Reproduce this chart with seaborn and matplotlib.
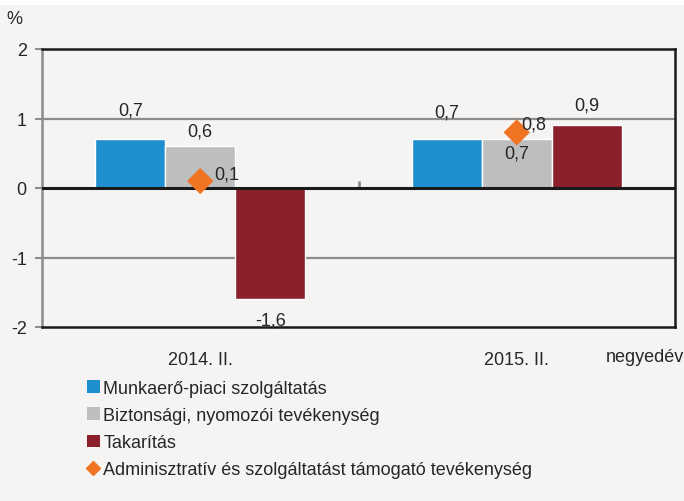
import pandas as pd
import matplotlib.pyplot as plt
import seaborn as sns
from matplotlib.patches import Rectangle

# ------------------------------
# Data
# ------------------------------
periods = ['2014. II.', '2015. II.']
munkaero = [0.7, 0.7]
biztonsagi = [0.6, 0.7]
takaritas = [-1.6, 0.9]
adminisztrativ = [0.1, 0.8]

series_names = ['Munkaerő-piaci szolgáltatás',
                'Biztonsági, nyomozói tevékenység',
                'Takarítás']
admin_name = 'Adminisztratív és szolgáltatást támogató tevékenység'
colors = ['#1f8fcf', '#bcbec0', '#8b1f2b']
admin_color = '#f07424'

df = pd.DataFrame({
    'period': periods * 3,
    'series': [s for s in series_names for _ in periods],
    'value': munkaero + biztonsagi + takaritas,
})

# ------------------------------
# Style
# ------------------------------
sns.set_style('white')
plt.rcParams['font.family'] = ['Liberation Sans Narrow', 'Liberation Sans', 'DejaVu Sans']
bg = '#f5f4f2'

fig = plt.figure(figsize=(6.84, 5.02), dpi=100, facecolor=bg)
fig.patches.append(Rectangle((0, 1 - 6 / 502), 1, 6 / 502, transform=fig.transFigure,
                             facecolor='white', edgecolor='none', zorder=0))
ax = fig.add_axes([42 / 684, 1 - 328 / 502, 633 / 684, 278 / 502])
ax.set_facecolor(bg)

sns.barplot(data=df, x='period', y='value', hue='series', palette=colors,
            width=0.663, gap=0, saturation=1, ax=ax, legend=False, zorder=2)
sns.scatterplot(x=periods, y=adminisztrativ, marker='D', s=180, color=admin_color,
                edgecolor='none', ax=ax, zorder=4)

ax.set_xlim(-0.5, 1.5)
ax.set_ylim(-2, 2)
ax.set_yticks([-2, -1, 0, 1, 2])
ax.set_yticklabels(['-2', '-1', '0', '1', '2'], fontsize=13)
ax.tick_params(axis='y', left=True, length=5, color='#8c8c8c', width=1.5, pad=6)
ax.tick_params(axis='x', bottom=False, labelsize=13, pad=14)
ax.set_xlabel('')
ax.set_ylabel('')

for v in [1, -1]:
    ax.axhline(v, color='#8c8c8c', lw=1.6, zorder=1)
ax.axhline(0, color='#1a1a1a', lw=2.2, zorder=3)

for side in ['top', 'right', 'bottom']:
    ax.spines[side].set_color('#1a1a1a')
    ax.spines[side].set_linewidth(1.8)
ax.spines['left'].set_color('#8c8c8c')
ax.spines['left'].set_linewidth(1.8)

# small category separator tick on zero line
sec = ax.secondary_xaxis(0.5)
sec.set_xticks([0.5])
sec.set_xticklabels([''])
sec.tick_params(length=5, width=2, color='#8c8c8c', direction='out')
sec.spines['bottom'].set_visible(False)

# ------------------------------
# Value labels
# ------------------------------
def fmt(v):
    return f'{v:.1f}'.replace('.', ',')

offsets = {
    (0, 0): (0, 21), (0, 1): (0, 11), (0, 2): (0, -15),
    (1, 0): (0, 20), (1, 1): (0, -10), (1, 2): (0, 15),
}
for s_idx, container in enumerate(ax.containers):
    for p_idx, bar in enumerate(container):
        h = bar.get_height()
        x = bar.get_x() + bar.get_width() / 2
        dx, dy = offsets[(p_idx, s_idx)]
        ax.annotate(fmt(h), (x, h), xytext=(dx, dy), textcoords='offset points',
                    ha='center', va='center', fontsize=13, zorder=5)

admin_offsets = [(19, 5), (12, 6)]
for i, v in enumerate(adminisztrativ):
    dx, dy = admin_offsets[i]
    ax.annotate(fmt(v), (i, v), xytext=(dx, dy), textcoords='offset points',
                ha='center', va='center', fontsize=13, zorder=5)

fig.text(14 / 684, 1 - 20 / 502, '%', fontsize=13, ha='center', va='center')
fig.text(645 / 684, 1 - 358 / 502, 'negyedév', fontsize=13, ha='center', va='center')

# ------------------------------
# Legend
# ------------------------------
handles = [Rectangle((0, 0), 1, 1, facecolor=c, edgecolor='none') for c in colors]
handles.append(plt.Line2D([], [], marker='D', color=admin_color, linestyle='none',
                          markersize=7))
fig.legend(handles, series_names + [admin_name], loc='upper left',
           bbox_to_anchor=(87 / 684, 1 - 381 / 502), frameon=False, fontsize=13,
           handlelength=0.7, handleheight=0.7, handletextpad=0.2,
           labelspacing=0.56, borderaxespad=0, borderpad=0)

fig.savefig('out.png', dpi=100, facecolor=bg)
